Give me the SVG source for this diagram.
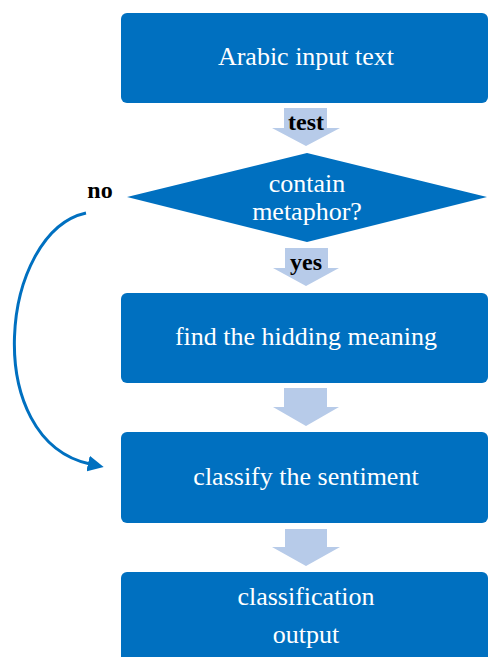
<svg xmlns="http://www.w3.org/2000/svg" width="488" height="657" viewBox="0 0 488 657">
<style>
.box{fill:#0070C0;}
.flow{fill:#B7CBE9;}
.t{font-family:"Liberation Serif","Times New Roman",serif;font-size:26px;fill:#FFFFFF;text-anchor:middle;}
.lbl{font-family:"Liberation Serif","Times New Roman",serif;font-size:24px;font-weight:bold;fill:#000000;text-anchor:middle;}
.conn{fill:none;stroke:#0070C0;stroke-width:3;}
</style>
<defs>
<marker id="ah" markerWidth="16" markerHeight="16" refX="2" refY="8" orient="auto" markerUnits="userSpaceOnUse" viewBox="0 0 16 16">
<path d="M0,0 L16,8 L0,16 Z" fill="#0070C0"/>
</marker>
</defs>
<g id="connectors">
<polygon class="flow" points="284,108 327,108 327,128 340,128 306,146 272,128 284,128"/>
<polygon class="flow" points="285,248 328,248 328,268 339,268 306,286 273,268 285,268"/>
<polygon class="flow" points="284,388 327,388 327,407 339,407 306,426 273,407 284,407"/>
<polygon class="flow" points="285,529 327,529 327,547 340,547 306,566 272,547 285,547"/>
<path class="conn" d="M86,213 C0,232 -20,440 90,464" marker-end="url(#ah)"/>
<text class="lbl" x="306" y="130">test</text>
<text class="lbl" x="306" y="270">yes</text>
<text class="lbl" x="100" y="198">no</text>
</g>
<g id="n1">
<rect class="box" x="121" y="13" width="367" height="90" rx="6"/>
<text class="t" x="306" y="65">Arabic input text</text>
</g>
<g id="n2">
<polygon class="box" points="307,153 487,197 307,242 127,197"/>
<text class="t" x="307" y="192">contain</text>
<text class="t" x="307" y="220">metaphor?</text>
</g>
<g id="n3">
<rect class="box" x="121" y="293" width="367" height="90" rx="6"/>
<text class="t" x="306" y="345">find the hidding meaning</text>
</g>
<g id="n4">
<rect class="box" x="121" y="432" width="367" height="91" rx="6"/>
<text class="t" x="306" y="485">classify the sentiment</text>
</g>
<g id="n5">
<rect class="box" x="121" y="572" width="367" height="100" rx="6"/>
<text class="t" x="306" y="605">classification</text>
<text class="t" x="306" y="643">output</text>
</g>
</svg>
